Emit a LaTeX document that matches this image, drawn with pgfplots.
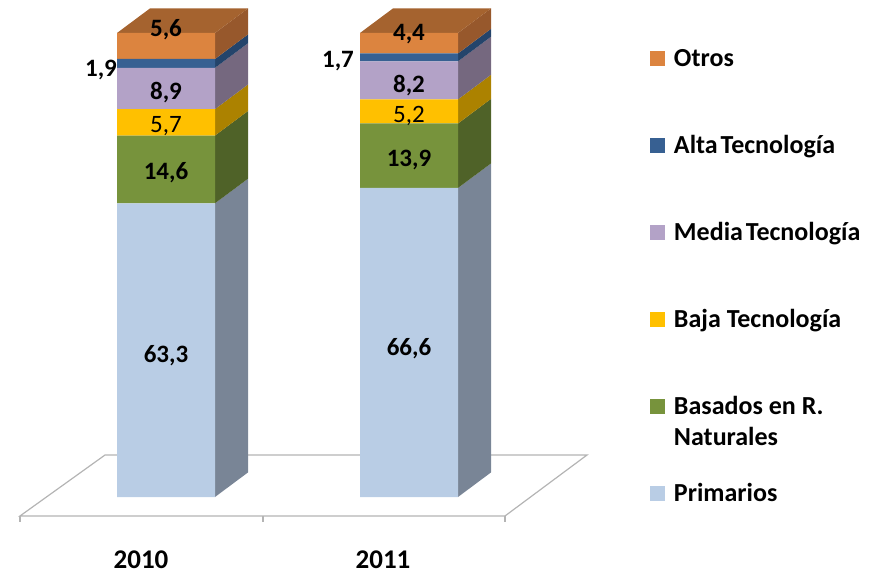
\documentclass[border=0pt]{standalone}
\usepackage{pgfplots}
\pgfplotsset{compat=1.18}
\usepackage{fontspec}
\setmainfont{Carlito}
\definecolor{cPri}{HTML}{B9CDE5}\definecolor{cPriS}{HTML}{798596}
\definecolor{cNat}{HTML}{77933C}\definecolor{cNatS}{HTML}{4F6228}
\definecolor{cBaj}{HTML}{FFC000}\definecolor{cBajS}{HTML}{AC8200}
\definecolor{cMed}{HTML}{B3A2C7}\definecolor{cMedS}{HTML}{75687F}
\definecolor{cAlt}{HTML}{376092}\definecolor{cAltS}{HTML}{24446B}
\definecolor{cOtr}{HTML}{DC843F}\definecolor{cOtrS}{HTML}{97582C}\definecolor{cOtrT}{HTML}{A5632F}
\definecolor{cFloor}{HTML}{B4B4B4}
\pgfplotsset{
  base/.style={scale only axis,width=883pt,height=574pt,at={(0pt,0pt)},anchor=south west,
    xmin=0,xmax=883,ymin=-16.595,ymax=107.112},
  face/.style={fill=#1,draw=none,mark=none,forget plot},
  fl/.style={draw=cFloor,line width=1.2pt,mark=none,forget plot}
}
\begin{document}
\begin{tikzpicture}
\useasboundingbox (0pt,0pt) rectangle (883pt,574pt);
% floor and the 3-D faces
\begin{axis}[base,hide axis]
\addplot[fl] coordinates {(20,-4.09)(505,-4.09)(587,9.05)(105,9.05)} --cycle;
\addplot[fl] coordinates {(20,-4.09)(20,-5.4)};
\addplot[fl] coordinates {(263,-4.09)(263,-5.4)};
\addplot[fl] coordinates {(505,-4.09)(505,-5.4)};
% 2010 side
\addplot[face=cPriS] coordinates {(215,0)(248,5.3)(248,68.6)(215,63.3)} --cycle;
\addplot[face=cNatS] coordinates {(215,63.3)(248,68.6)(248,83.2)(215,77.9)} --cycle;
\addplot[face=cBajS] coordinates {(215,77.9)(248,83.2)(248,88.9)(215,83.6)} --cycle;
\addplot[face=cMedS] coordinates {(215,83.6)(248,88.9)(248,97.8)(215,92.5)} --cycle;
\addplot[face=cAltS] coordinates {(215,92.5)(248,97.8)(248,99.7)(215,94.4)} --cycle;
\addplot[face=cOtrS] coordinates {(215,94.4)(248,99.7)(248,105.3)(215,100)} --cycle;
\addplot[face=cOtrT] coordinates {(117,100)(215,100)(248,105.3)(150,105.3)} --cycle;
% 2011 side
\addplot[face=cPriS] coordinates {(458,0)(491,5.3)(491,71.9)(458,66.6)} --cycle;
\addplot[face=cNatS] coordinates {(458,66.6)(491,71.9)(491,85.8)(458,80.5)} --cycle;
\addplot[face=cBajS] coordinates {(458,80.5)(491,85.8)(491,91)(458,85.7)} --cycle;
\addplot[face=cMedS] coordinates {(458,85.7)(491,91)(491,99.2)(458,93.9)} --cycle;
\addplot[face=cAltS] coordinates {(458,93.9)(491,99.2)(491,100.9)(458,95.6)} --cycle;
\addplot[face=cOtrS] coordinates {(458,95.6)(491,100.9)(491,105.3)(458,100)} --cycle;
\addplot[face=cOtrT] coordinates {(360,100)(458,100)(491,105.3)(393,105.3)} --cycle;
\end{axis}
% front faces
\begin{axis}[base,ybar stacked,bar width=98pt,
  axis y line=none,axis x line=bottom,
  x axis line style={draw=none},
  xtick={141,383},xticklabels={2010,2011},
  tick style={draw=none},major tick length=0pt,
  xticklabel style={font=\fontsize{27}{30}\selectfont\bfseries,yshift=23pt,inner sep=0pt},
  reverse legend,
  legend cell align=left,
  legend style={at={(650/883,1-51.5/574)},anchor=north west,draw=none,fill=none,
    inner sep=0pt,outer sep=0pt,
    row sep=0pt,column sep=9pt,
    nodes={inner sep=0pt,outer sep=0pt,text height=15pt,text depth=72pt,anchor=base west,
      font=\fontsize{26}{31}\selectfont\bfseries}},
  legend image code/.code={\fill[#1] (0pt,0pt) rectangle (15pt,15pt);}
]
\addplot[fill=cPri,draw=none] coordinates {(166,63.3)(409,66.6)};
\addplot[fill=cNat,draw=none] coordinates {(166,14.6)(409,13.9)};
\addplot[fill=cBaj,draw=none] coordinates {(166,5.7)(409,5.2)};
\addplot[fill=cMed,draw=none] coordinates {(166,8.9)(409,8.2)};
\addplot[fill=cAlt,draw=none] coordinates {(166,1.9)(409,1.7)};
\addplot[fill=cOtr,draw=none] coordinates {(166,5.6)(409,4.4)};
\legend{Primarios,{\parbox[t]{200pt}{Basados en R.\\Naturales}},Baja Tecnología,Media\hspace{-3pt} Tecnología,Alta\hspace{-3pt} Tecnología,Otros}
\end{axis}
% value labels
\begin{axis}[base,hide axis,
  nodes near coords={\pgfplotspointmeta},point meta=explicit symbolic,
  every node near coord/.append style={anchor=center,inner sep=0pt,yshift=-2pt}]
\addplot[draw=none,mark=none,every node near coord/.append style={font=\fontsize{25}{28}\selectfont\bfseries}]
 table[x=x,y=y,meta=l] {
x y l
166 31.0 63,3
166 70.3 14,6
166 87.7 8,9
101 92.5 1,9
166 101.1 5,6
409 32.5 66,6
409 73.1 13,9
409 89.2 8,2
338 94.4 1,7
409 100.2 4,4
};
\addplot[draw=none,mark=none,every node near coord/.append style={font=\fontsize{25}{28}\selectfont}]
 table[x=x,y=y,meta=l] {
x y l
166 80.4 5,7
409 82.5 5,2
};
\end{axis}
\end{tikzpicture}
\end{document}
